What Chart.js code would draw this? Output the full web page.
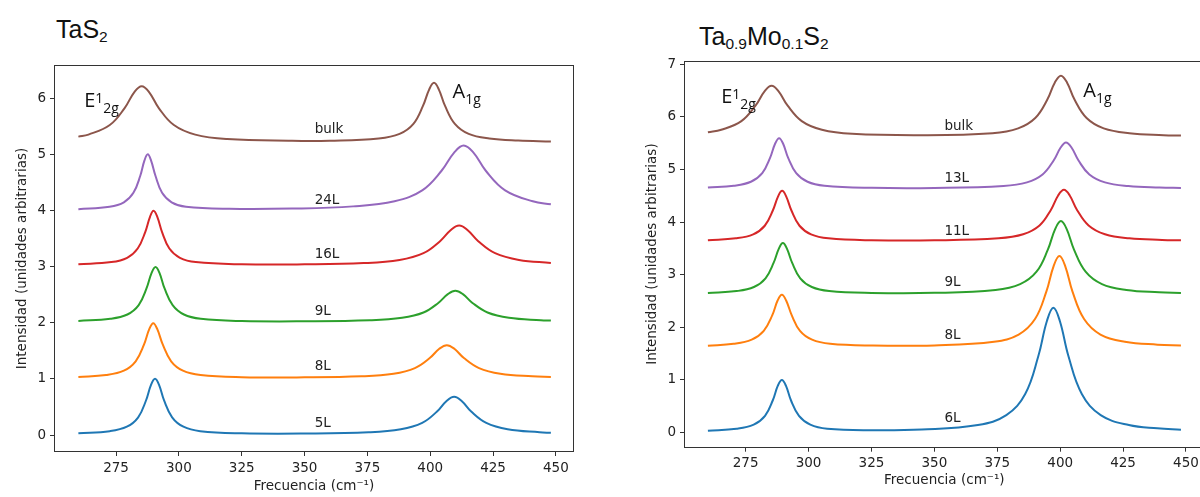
<!DOCTYPE html>
<html lang="es">
<head>
<meta charset="utf-8">
<title>Raman TaS2 / Ta0.9Mo0.1S2</title>
<script src="https://cdn.jsdelivr.net/npm/chart.js@4.4.1/dist/chart.umd.min.js"></script>
<style>
  html, body { margin: 0; padding: 0; background: #fff; }
  body { position: relative; width: 1200px; height: 497px; overflow: hidden; }
  canvas { position: absolute; top: 0; }
  .title { position: absolute; font-family: 'Liberation Sans', Arial, sans-serif; font-size: 25px; line-height: 25px; color: #111; white-space: nowrap; }
  .title sub { font-size: 0.62em; vertical-align: -0.28em; line-height: 0; }
</style>
</head>
<body>
<div class="title" style="left:56px;top:17px">TaS<sub>2</sub></div>
<div class="title" style="left:699px;top:24px">Ta<sub>0.9</sub>Mo<sub>0.1</sub>S<sub>2</sub></div>
<canvas id="tasChart" width="600" height="497" style="left:0"></canvas>
<canvas id="moChart" width="580" height="497" style="left:630px"></canvas>
<script>
'use strict';

// tick values (cm^-1 on x, arbitrary units on y)
const freqTicks = [275, 300, 325, 350, 375, 400, 425, 450];
const tasIntensityTicks = [0, 1, 2, 3, 4, 5, 6];
const moIntensityTicks = [0, 1, 2, 3, 4, 5, 6, 7];

// TaS2 spectra: [frequency, intensity] pairs
const tas5L = [[260,0.033],[272.5,0.071],[279.3,0.150],[283.8,0.318],[286.9,0.617],[288.9,0.895],[290.5,1.003],[292.1,0.895],[294.1,0.617],[297.3,0.318],[301.8,0.150],[308.5,0.071],[325,0.033],[350,0.029],[375.5,0.051],[388.3,0.104],[396.8,0.218],[402.7,0.421],[406.5,0.609],[409.5,0.682],[412.5,0.609],[416.3,0.421],[422.3,0.218],[430.8,0.104],[443.5,0.051],[448,0.042]];
const tas8L = [[260,1.036],[271.0,1.071],[278.1,1.148],[282.8,1.315],[286.1,1.611],[288.2,1.886],[289.8,1.993],[291.4,1.886],[293.6,1.611],[296.9,1.315],[301.6,1.148],[308.6,1.071],[325,1.033],[350,1.029],[372.6,1.047],[385.4,1.093],[393.9,1.194],[399.8,1.372],[403.6,1.538],[406.6,1.602],[409.6,1.538],[413.4,1.372],[419.4,1.194],[427.9,1.093],[440.6,1.047],[448,1.036]];
const tas9L = [[260,2.033],[272.7,2.071],[279.5,2.148],[284.0,2.315],[287.1,2.611],[289.1,2.886],[290.7,2.993],[292.3,2.886],[294.3,2.611],[297.5,2.315],[302.0,2.148],[308.7,2.071],[325,2.032],[350,2.027],[376.0,2.045],[388.8,2.089],[397.3,2.184],[403.2,2.354],[407.0,2.511],[410.0,2.572],[413.0,2.511],[416.8,2.354],[422.8,2.184],[431.3,2.089],[444.0,2.045],[448,2.039]];
const tas16L = [[260,3.042],[273.1,3.081],[279.4,3.158],[283.6,3.323],[286.6,3.616],[288.5,3.888],[289.9,3.994],[291.4,3.888],[293.3,3.616],[296.2,3.323],[300.4,3.158],[306.7,3.081],[325,3.042],[350,3.041],[373.5,3.063],[387.8,3.119],[397.3,3.240],[403.9,3.454],[408.2,3.653],[411.5,3.731],[414.8,3.653],[419.1,3.454],[425.8,3.240],[435.3,3.119],[448,3.066]];
const tas24L = [[260,4.024],[272.4,4.067],[278.1,4.146],[281.9,4.314],[284.6,4.613],[286.3,4.891],[287.6,4.999],[288.9,4.891],[290.7,4.613],[293.3,4.314],[297.1,4.146],[302.8,4.067],[320,4.029],[345,4.033],[369.3,4.073],[385.8,4.164],[396.8,4.359],[404.5,4.707],[409.5,5.030],[413.3,5.155],[417.2,5.030],[422.1,4.707],[429.8,4.359],[440.8,4.164],[448,4.110]];
const tasBulk = [[260,5.315],[264.0,5.351],[272.5,5.521],[278.4,5.823],[282.2,6.104],[285.2,6.213],[288.2,6.104],[292.0,5.823],[298.0,5.521],[306.5,5.351],[319.2,5.272],[345,5.240],[360,5.241],[379.5,5.281],[387.8,5.363],[393.3,5.542],[397.1,5.861],[399.6,6.157],[401.5,6.272],[403.4,6.157],[405.9,5.861],[409.8,5.542],[415.3,5.363],[423.5,5.281],[435,5.244],[448,5.228]];

// Ta0.9Mo0.1S2 spectra, right panel
const mo6L = [[260,0.030],[271.4,0.069],[278.2,0.147],[282.7,0.314],[285.8,0.612],[287.8,0.889],[289.4,0.996],[291.0,0.889],[293.0,0.612],[296.2,0.314],[300.7,0.147],[307.4,0.069],[325,0.041],[345,0.055],[367.3,0.141],[378.6,0.329],[386.1,0.732],[391.3,1.448],[394.7,2.114],[397.3,2.372],[399.9,2.114],[403.3,1.448],[408.6,0.732],[416.1,0.329],[427.3,0.141],[438.6,0.078],[448,0.053]];
const mo8L = [[260,1.649],[270.2,1.684],[277.4,1.763],[282.2,1.931],[285.6,2.230],[287.7,2.508],[289.4,2.616],[291.1,2.508],[293.3,2.230],[296.6,1.931],[301.4,1.763],[308.6,1.684],[325,1.651],[350,1.655],[373.7,1.724],[383.5,1.861],[390.0,2.155],[394.5,2.677],[397.4,3.163],[399.7,3.352],[402.0,3.163],[404.9,2.677],[409.5,2.155],[416.0,1.861],[425.7,1.724],[438.7,1.669],[448,1.653]];
const mo9L = [[260,2.651],[271.4,2.687],[278.3,2.764],[282.9,2.929],[286.1,3.222],[288.2,3.494],[289.8,3.600],[291.4,3.494],[293.5,3.222],[296.7,2.929],[301.3,2.764],[308.2,2.687],[325,2.652],[350,2.653],[374.3,2.709],[384.1,2.819],[390.6,3.055],[395.1,3.475],[398.0,3.865],[400.3,4.017],[402.6,3.865],[405.5,3.475],[410.1,3.055],[416.6,2.819],[426.3,2.709],[439.3,2.665],[448,2.652]];
const mo11L = [[260,3.655],[271.1,3.690],[278.0,3.765],[282.6,3.929],[285.8,4.219],[287.9,4.488],[289.5,4.593],[291.1,4.488],[293.2,4.219],[296.4,3.929],[301.0,3.765],[307.9,3.690],[325,3.653],[350,3.651],[375.5,3.690],[385.3,3.767],[391.8,3.934],[396.3,4.230],[399.2,4.505],[401.5,4.612],[403.8,4.505],[406.7,4.230],[411.3,3.934],[417.8,3.767],[427.5,3.690],[440.5,3.659],[448,3.651]];
const mo13L = [[260,4.655],[270.3,4.690],[277.1,4.765],[281.6,4.929],[284.7,5.219],[286.7,5.488],[288.3,5.593],[289.9,5.488],[291.9,5.219],[295.1,4.929],[299.6,4.765],[306.3,4.690],[325,4.650],[350,4.647],[377.5,4.684],[386.8,4.753],[393.0,4.903],[397.4,5.169],[400.2,5.416],[402.3,5.512],[404.5,5.416],[407.3,5.169],[411.6,4.903],[417.8,4.753],[427.1,4.684],[439.5,4.656],[448,4.648]];
const moBulk = [[260,5.705],[265.3,5.753],[273.3,5.918],[278.9,6.211],[282.5,6.483],[285.3,6.589],[288.1,6.483],[291.7,6.211],[297.3,5.918],[305.3,5.753],[317.3,5.676],[345,5.649],[373.1,5.688],[383.3,5.780],[390.1,5.977],[394.9,6.328],[397.9,6.654],[400.3,6.780],[402.7,6.654],[405.7,6.328],[410.5,5.977],[417.3,5.780],[427.5,5.688],[441.1,5.651],[448,5.643]];

const tasSeries = [tas5L, tas8L, tas9L, tas16L, tas24L, tasBulk];
const tasNames = ['5L', '8L', '9L', '16L', '24L', 'bulk'];
const moSeries = [mo6L, mo8L, mo9L, mo11L, mo13L, moBulk];
const moNames = ['6L', '8L', '9L', '11L', '13L', 'bulk'];

// where the curve names and mode labels sit (data units)
const tasNameY = [0.21, 1.22, 2.2, 3.22, 4.18, 5.45];
const moNameY = [0.26, 1.85, 2.85, 3.82, 4.83, 5.81];
const tasModes = [
  { main: 'E', sup: '1', sub: '2g', x: 262.3, y: 5.845 },
  { main: 'A', sub: '1g', x: 408.9, y: 6.01 },
];
const moModes = [
  { main: 'E', sup: '1', sub: '2g', x: 265.3, y: 6.27 },
  { main: 'A', sub: '1g', x: 409.2, y: 6.38 },
];

const colours = ['#1f77b4', '#ff7f0e', '#2ca02c', '#d62728', '#9467bd', '#8c564b'];
const tickFont = { family: "'DejaVu Sans', sans-serif", size: 13.5 };

function panel(id, series, names, nameY, modes, view) {
  const textPlugin = {
    id: 'curveText',
    afterDatasetsDraw(chart) {
      const { ctx, chartArea: a } = chart;
      const { x, y } = chart.scales;
      ctx.save();
      ctx.fillStyle = '#222';
      ctx.font = "13.5px 'DejaVu Sans'";
      ctx.textBaseline = 'middle';
      names.forEach((n, i) => ctx.fillText(n, x.getPixelForValue(354), y.getPixelForValue(nameY[i])));

      ctx.textBaseline = 'alphabetic';
      ctx.fillStyle = '#111';
      modes.forEach((m) => {
        let px = x.getPixelForValue(m.x);
        const py = y.getPixelForValue(m.y);
        ctx.font = "20px 'Open Sans'";
        ctx.fillText(m.main, px, py);
        px += ctx.measureText(m.main).width;
        ctx.font = "14px 'Open Sans'";
        if (m.sup) {
          ctx.fillText(m.sup, px, py - 4);
          px += ctx.measureText(m.sup).width;
        }
        ctx.fillText(m.sub, px, py + 6);
      });

      // matplotlib-style box round the axes
      ctx.strokeStyle = '#333';
      ctx.lineWidth = 1;
      ctx.strokeRect(Math.round(a.left) + 0.5, Math.round(a.top) + 0.5, Math.round(a.width) - 1, Math.round(a.height) - 1);
      ctx.restore();
    },
  };

  new Chart(document.getElementById(id), {
    type: 'line',
    data: {
      datasets: series.map((pts, i) => ({
        label: names[i],
        data: pts.map(([f, v]) => ({ x: f, y: v })),
        borderColor: colours[i],
        borderWidth: 2,
        pointRadius: 0,
        tension: 0.4,
        fill: false,
      })),
    },
    options: {
      responsive: false,
      animation: false,
      events: [],
      layout: { padding: { left: 0, top: view.top, right: view.right, bottom: 0 } },
      plugins: { legend: { display: false }, tooltip: { enabled: false } },
      scales: {
        x: {
          type: 'linear',
          min: view.x[0],
          max: view.x[1],
          afterBuildTicks: (s) => { s.ticks = freqTicks.map((v) => ({ value: v })); },
          afterFit: (s) => { s.height = view.xAxisH; },
          border: { display: false },
          grid: { drawOnChartArea: false, color: '#333', tickLength: 4 },
          ticks: { font: tickFont, color: '#222', padding: 4, maxRotation: 0, autoSkip: false },
          title: { display: true, text: 'Frecuencia (cm⁻¹)', font: tickFont, color: '#222', padding: { top: 0, bottom: view.titlePad } },
        },
        y: {
          type: 'linear',
          min: view.y[0],
          max: view.y[1],
          afterBuildTicks: (s) => { s.ticks = view.yTicks.map((v) => ({ value: v })); },
          afterFit: (s) => { s.width = 54; },
          border: { display: false },
          grid: { drawOnChartArea: false, color: '#333', tickLength: 4 },
          ticks: { font: tickFont, color: '#222', padding: 4, autoSkip: false },
          title: { display: true, text: 'Intensidad (unidades arbitrarias)', font: tickFont, color: '#222', padding: { top: 14, bottom: 0 } },
        },
      },
    },
    plugins: [textPlugin],
  });
}

panel('tasChart', tasSeries, tasNames, tasNameY, tasModes,
  { x: [250.3, 457.2], y: [-0.30, 6.59], top: 65, right: 26, xAxisH: 45, titlePad: 2, yTicks: tasIntensityTicks });
panel('moChart', moSeries, moNames, moNameY, moModes,
  { x: [250.5, 457.4], y: [-0.29, 7.07], top: 60.5, right: 5.4, xAxisH: 49.3, titlePad: 8, yTicks: moIntensityTicks });
</script>
</body>
</html>
